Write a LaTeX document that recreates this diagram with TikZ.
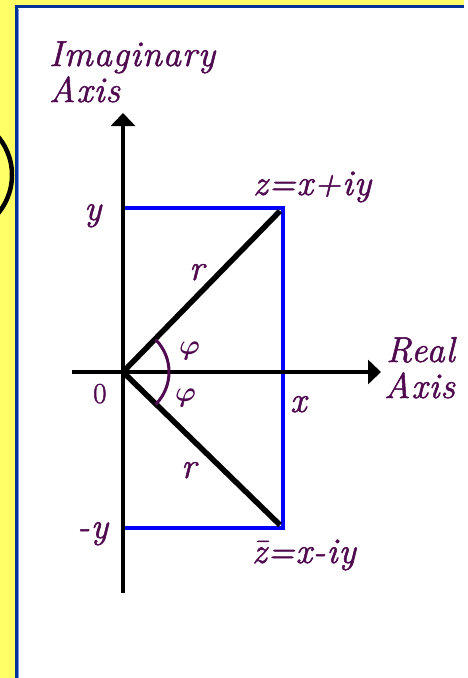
\documentclass[tikz,border=0pt]{standalone}
\usepackage{graphicx}
\usepackage{fontspec}
\newfontfamily\labfont{Latin Modern Roman}[FakeBold=1.5, LetterSpace=3]
\usetikzlibrary{arrows.meta}
\definecolor{bgyellow}{RGB}{255,255,102}
\definecolor{frameblue}{RGB}{0,51,153}
\definecolor{framelight}{RGB}{120,150,230}
\definecolor{rectblue}{RGB}{0,0,255}
\definecolor{labpurple}{RGB}{80,10,80}
\tikzset{
  lab/.style={text=labpurple, inner sep=0pt, font=\labfont\fontsize{36}{40}\selectfont\itshape},
  labup/.style={text=labpurple, inner sep=0pt, font=\labfont\fontsize{29}{34}\selectfont},
  axisline/.style={line width=4.5pt, -{Triangle[length=13pt,width=24pt]}},
  radiusline/.style={line width=5.5pt},
  boxline/.style={rectblue, line width=4pt},
  anglearc/.style={labpurple, line width=3pt},
}
\begin{document}
\begin{tikzpicture}[x=1pt,y=-1pt]
\useasboundingbox (0,0) rectangle (467,678);
\fill[bgyellow] (0,0) rectangle (467,678);
\begin{scope}
  \clip (0,0) rectangle (467,678);
  \fill[white] (16,6) rectangle (480,700);
  \fill[white] (464,0) rectangle (467,678);
  \draw[framelight, line width=1pt] (18.8,9) -- (18.8,690);
  \draw[frameblue, line width=3pt] (16.5,700) -- (16.5,6.5) -- (464,6.5);
  \draw[line width=4.5pt] (-48,175) circle[radius=60pt];
\end{scope}
% key points
\coordinate (O) at (123,372);
\coordinate (ybot) at (123,593);
\coordinate (ytop) at (123,113);
\coordinate (xl) at (72,372);
\coordinate (xr) at (381,372);
\coordinate (Y) at (123,208);
\coordinate (Z) at (283,208);
\coordinate (Zb) at (283,528);
\coordinate (Yb) at (123,528);
\coordinate (Zin) at (280,211);
\coordinate (Zbin) at (280,525);
% box
\draw[boxline] (Y) -- (Z) -- (Zb) -- (Yb);
% radii
\draw[radiusline] (O) -- (Zin);
\draw[radiusline] (O) -- (Zbin);
% axes
\draw[axisline] (ybot) -- (ytop);
\draw[axisline] (xl) -- (xr);
% angle arc
\draw[anglearc] ([shift={(45:46pt)}]O) arc[start angle=45, end angle=-45, radius=46pt];
% labels
\node[lab, anchor=base west] (imag) at (49,66) {Imaginary};
\node[lab, anchor=base west] (iaxis) at (49,102) {Axis};
\node[lab, anchor=base west] (real) at (386,362) {Real};
\node[lab, anchor=base west] (raxis) at (384,398) {Axis};
\node[lab, anchor=base west] (ylab) at (84,220) {y};
\node[lab, anchor=base west] (mylab) at (77,538) {-y};
\node[labup, anchor=base west] (zero) at (93,403) {0};
\node[lab, anchor=base west] (xlab) at (290,412) {x};
\node[lab, anchor=base west] (r1) at (189,280) {r};
\node[lab, anchor=base west] (r2) at (181,478) {r};
\node[lab, anchor=base west] (phi1) at (179,354) {\resizebox{21pt}{!}{\boldmath$\varphi$}};
\node[lab, anchor=base west] (phi2) at (175,401) {\resizebox{21pt}{!}{\boldmath$\varphi$}};
\node[lab, anchor=base west] (zlab) at (253,195) {z=x+iy};
\node[lab, anchor=base west] (zblab) at (252,563) {\={z}=x-iy};
\end{tikzpicture}
\end{document}
